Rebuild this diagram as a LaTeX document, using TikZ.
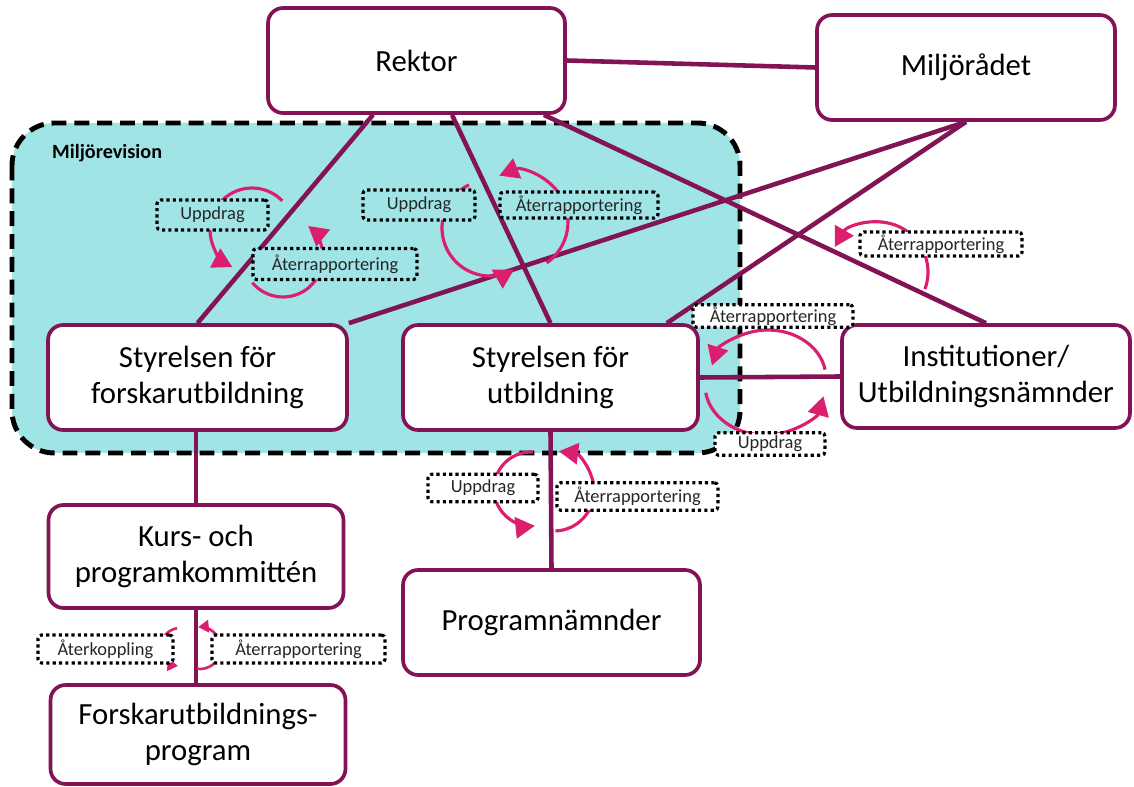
\documentclass[tikz,border=0pt]{standalone}
\usepackage{fontspec}
\setmainfont{Carlito}
\usepackage{tikz}
\usetikzlibrary{arrows.meta,backgrounds}
\definecolor{lila}{RGB}{130,20,85}
\definecolor{rosa}{RGB}{220,30,110}
\definecolor{turkos}{RGB}{160,228,230}

\begin{document}
\begin{tikzpicture}[x=0.02cm,y=0.02cm,
ruta/.style={draw=lila,line width=2.1pt,rounded corners=0.3cm,fill=white,align=center,minimum width=5.9cm,minimum height=2.1cm,font=\fontsize{17.5}{20}\selectfont},
lapp/.style={draw=black,line width=1.8pt,dash pattern=on 1.8pt off 1.8pt,rounded corners=2pt,fill=white,minimum height=0.55cm,inner sep=0pt,text=black!85,font=\fontsize{10.5}{12}\selectfont},
linje/.style={draw=lila,line width=2.6pt},
>={Triangle[length=11pt,width=12pt]},
pil/.style={draw=rosa,line width=1.8pt,->},
lillpil/.style={draw=rosa,line width=1.5pt,-{Triangle[length=6pt,width=7pt]}}]
\useasboundingbox (0,0) rectangle (1134,-787);
\node[ruta,minimum width=5.94cm] (rektor) at (416.5,-60.5) {Rektor};
\node[ruta,minimum width=5.96cm] (miljo) at (966,-67.5) {Miljörådet};
\node[ruta,minimum width=5.98cm] (sff) at (197.5,-377.5) {Styrelsen för\\forskarutbildning};
\node[ruta] (sfu) at (550.5,-377.5) {Styrelsen för\\utbildning};
\node[ruta,minimum width=5.76cm,minimum height=2.06cm] (inst) at (986,-376.5) {Institutioner/\\Utbildningsnämnder};
\node[ruta,minimum height=2.06cm] (kurs) at (196,-556.5) {Kurs- och\\programkommittén};
\node[ruta,minimum width=5.94cm] (prog) at (551.5,-622.5) {Programnämnder};
\node[ruta,minimum height=1.98cm] (forsk) at (198,-734.5) {Forskarutbildnings-\\program};
\begin{scope}[on background layer]
\draw[line width=2.8pt,dash pattern=on 8.5pt off 4.5pt,fill=turkos,rounded corners=0.85cm] (12,-123) rectangle (740,-453);
\draw[linje] (rektor.east) -- (miljo.west);
\draw[linje] ([xshift=-0.87cm]rektor.south) -- (sff.north);
\draw[linje] ([xshift=0.71cm]rektor.south) -- (sfu.north);
\draw[linje] ([xshift=-0.46cm]rektor.south east) -- (inst.north);
\draw[linje] (miljo.south) -- (sff.north east);
\draw[linje] (miljo.south) -- ([xshift=-0.66cm]sfu.north east);
\draw[linje] (sfu.east) -- (inst.west);
\draw[linje] (kurs.north |- sff.south) -- (kurs.north);
\draw[linje] (sfu.south) -- (prog.north);
\draw[linje] (kurs.south) -- (kurs.south |- forsk.north);
\end{scope}
\node[anchor=west,font=\fontsize{11.5}{13}\selectfont\bfseries] (rev) at (46,-153) {Miljörevision};
\draw[pil] (252,-230) ++(44:0.84cm) arc[start angle=44,end angle=242,radius=0.84cm];
\draw[pil] (283,-257) ++(220:0.8cm) arc[start angle=220,end angle=411,radius=0.8cm];
\draw[pil] (490,-228) ++(116:0.96cm) arc[start angle=116,end angle=300,radius=0.96cm];
\draw[pil] (518,-222) ++(-55:1cm) arc[start angle=-55,end angle=112,radius=1cm];
\draw[pil] (878,-272) ++(-20:1cm) arc[start angle=-20,end angle=150,radius=1cm];
\draw[pil] (768,-378) ++(10:1.16cm and 0.96cm) arc[start angle=10,end angle=165,x radius=1.16cm,y radius=0.96cm];
\draw[pil] (765,-385) ++(189:1.2cm and 1cm) arc[start angle=189,end angle=347,x radius=1.2cm,y radius=1cm];
\draw[pil] (531,-489) ++(87:0.74cm) arc[start angle=87,end angle=276,radius=0.74cm];
\draw[pil] (554,-491) ++(-88:0.8cm) arc[start angle=-88,end angle=83,radius=0.8cm];
\draw[lillpil] (180,-647) ++(99:0.38cm) arc[start angle=99,end angle=264,radius=0.38cm];
\draw[lillpil] (200,-648) ++(-98:0.42cm) arc[start angle=-98,end angle=95,radius=0.42cm];
\node[lapp,fill=turkos,minimum width=2.22cm,minimum height=0.6cm] (upp1) at (212.5,-215) {Uppdrag};
\node[lapp,fill=turkos,minimum width=3.28cm,minimum height=0.62cm] (ater1) at (335,-264) {Återrapportering};
\node[lapp,fill=turkos,minimum width=2.24cm,minimum height=0.6cm] (upp2) at (419,-205) {Uppdrag};
\node[lapp,fill=turkos,minimum width=3.16cm,minimum height=0.52cm] (ater2) at (579,-205) {Återrapportering};
\node[lapp,minimum width=3.24cm,minimum height=0.48cm] (ater3) at (941,-244) {Återrapportering};
\node[lapp,minimum width=3.2cm,minimum height=0.45cm] (ater4) at (773,-316) {Återrapportering};
\node[lapp,minimum width=2.2cm,minimum height=0.45cm] (upp3) at (770,-444) {Uppdrag};
\node[lapp,minimum width=2.2cm] (upp4) at (483,-488) {Uppdrag};
\node[lapp,minimum width=3.22cm] (ater5) at (637.5,-496.5) {Återrapportering};
\node[lapp,minimum width=2.7cm,minimum height=0.56cm] (aterk) at (105.5,-649) {Återkoppling};
\node[lapp,minimum width=3.46cm,minimum height=0.56cm] (ater6) at (298.5,-649) {Återrapportering};
\end{tikzpicture}
\end{document}
